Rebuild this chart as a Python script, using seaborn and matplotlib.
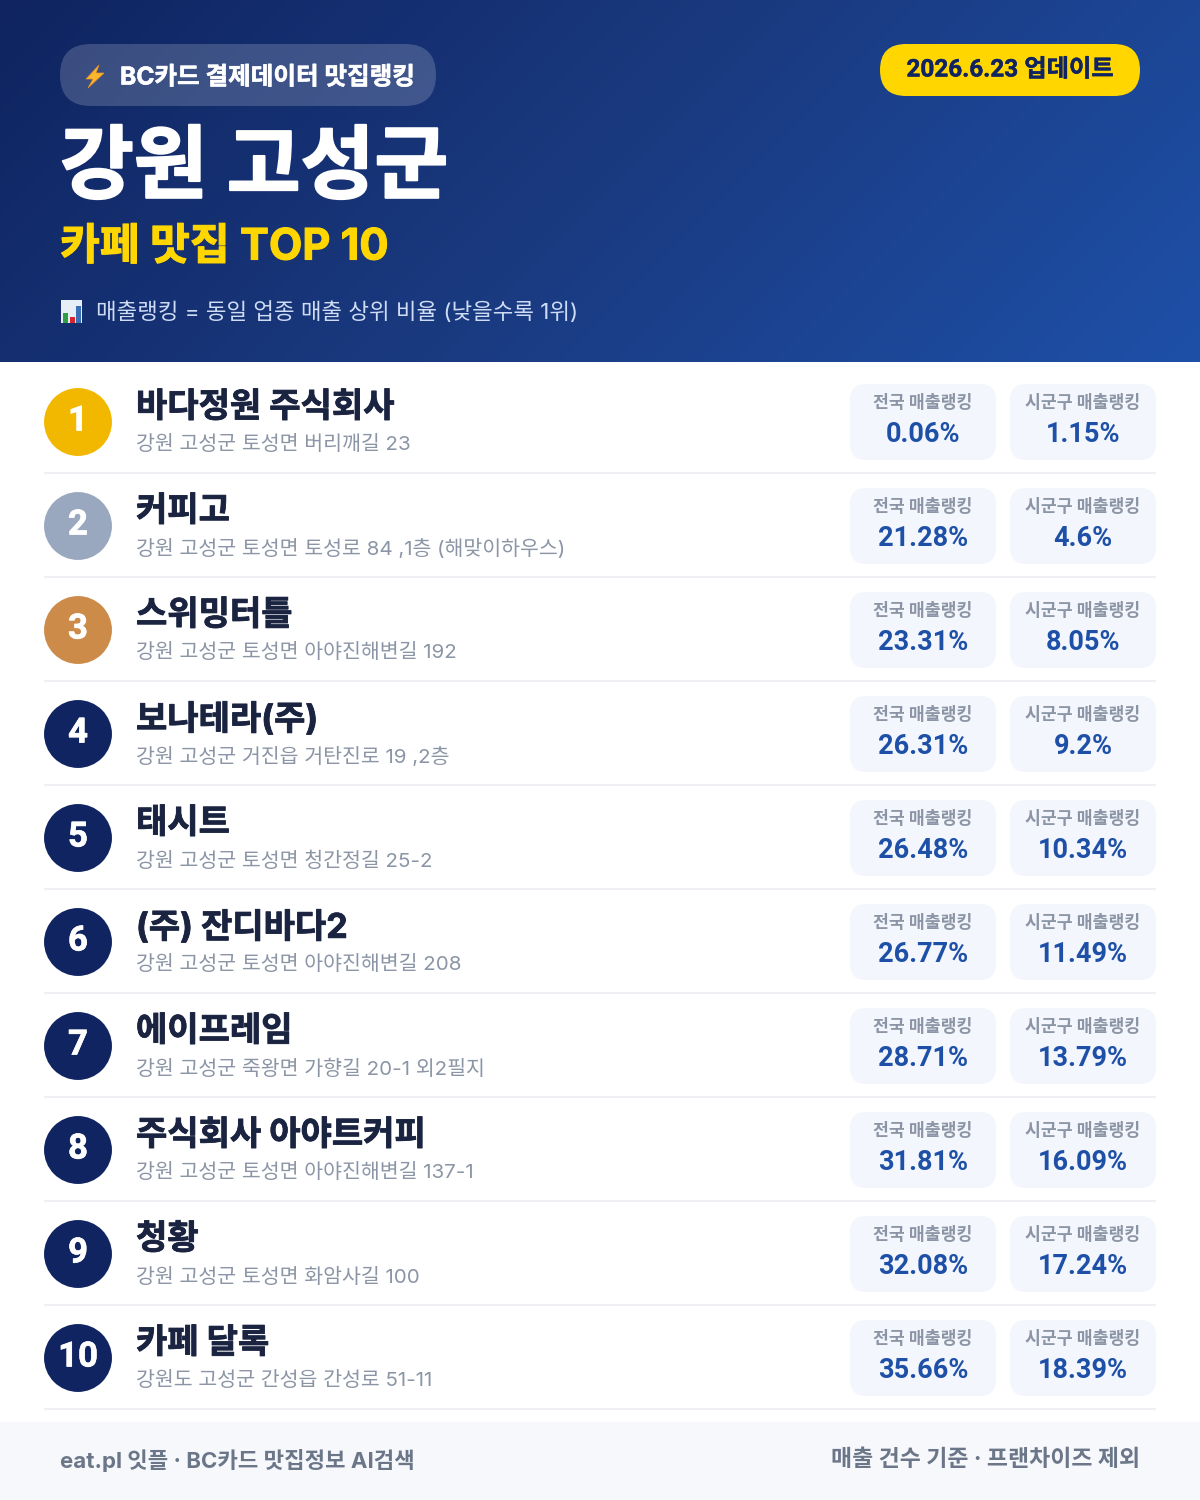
import numpy as np
import pandas as pd
import seaborn as sns
import matplotlib.pyplot as plt
import matplotlib.patheffects as pe
from matplotlib.colors import LinearSegmentedColormap
from matplotlib.patches import FancyBboxPatch, Polygon, Rectangle

# --- data ---
ranks = [1, 2, 3, 4, 5, 6, 7, 8, 9, 10]
names = ["바다정원 주식회사", "커피고", "스위밍터틀", "보나테라(주)", "태시트",
         "(주) 잔디바다2", "에이프레임", "주식회사 아야트커피", "청황", "카페 달록"]
addresses = ["강원 고성군 토성면 버리깨길 23",
             "강원 고성군 토성면 토성로 84 ,1층 (해맞이하우스)",
             "강원 고성군 토성면 아야진해변길 192",
             "강원 고성군 거진읍 거탄진로 19 ,2층",
             "강원 고성군 토성면 청간정길 25-2",
             "강원 고성군 토성면 아야진해변길 208",
             "강원 고성군 죽왕면 가향길 20-1 외2필지",
             "강원 고성군 토성면 아야진해변길 137-1",
             "강원 고성군 토성면 화암사길 100",
             "강원도 고성군 간성읍 간성로 51-11"]
national = [0.06, 21.28, 23.31, 26.31, 26.48, 26.77, 28.71, 31.81, 32.08, 35.66]
local = [1.15, 4.6, 8.05, 9.2, 10.34, 11.49, 13.79, 16.09, 17.24, 18.39]
medals = ["1", "2", "3"]

NAVY = "#0f2460"
BLUE = "#1e50a8"
YELLOW = "#ffd600"
NARROW = ["Roboto", "Noto Sans CJK KR", "DejaVu Sans"]

sns.set_theme(style="white")
plt.rcParams["font.family"] = ["Inter", "Noto Sans CJK KR", "DejaVu Sans"]

fig = plt.figure(figsize=(12, 15), dpi=100)
ax = fig.add_axes([0, 0, 1, 1])
ax.set_xlim(0, 1200)
ax.set_ylim(1500, 0)
ax.axis("off")


def heavy(width, color):
    # the CJK font stops at Bold, thicken it a bit
    return [pe.withStroke(linewidth=width, foreground=color)]


# --- header ---
xx, yy = np.meshgrid(np.arange(1200), np.arange(362))
grad = (xx + yy) / (1200 + 362)
cmap = LinearSegmentedColormap.from_list("hdr", [NAVY, "#1a3a80", BLUE])
ax.imshow(grad, extent=(0, 1200, 362, 0), cmap=cmap, aspect="auto", zorder=0)
ax.set_xlim(0, 1200)
ax.set_ylim(1500, 0)


def box(x0, y0, x1, y1, r, **kw):
    ax.add_patch(FancyBboxPatch((x0 + r, y0 + r), x1 - x0 - 2 * r, y1 - y0 - 2 * r,
                                boxstyle=f"round,pad={r},rounding_size={r}",
                                linewidth=0, **kw))


box(60, 44, 436, 106, 31, facecolor="white", alpha=0.18, zorder=1)
box(880, 44, 1140, 96, 26, facecolor=YELLOW, zorder=1)

# bolt icon
ax.add_patch(Polygon([(99, 65), (86, 79), (93, 79), (88, 88), (104, 73), (96, 73)],
                     closed=True, facecolor="#fbb62c", edgecolor="#e8912a", linewidth=0.5, zorder=2))
ax.text(120, 78, "BC카드 결제데이터 맛집랭킹", fontsize=17.7, fontweight="bold",
        color="white", va="center", zorder=2, path_effects=heavy(0.4, "white"))
ax.text(1010, 70, "2026.6.23 업데이트", fontsize=17.5, fontweight="bold", family=NARROW,
        color=NAVY, ha="center", va="center", zorder=2, path_effects=heavy(0.3, NAVY))
ax.text(60, 171, "강원 고성군", fontsize=57.8, fontweight="bold", color="white",
        va="center", zorder=2, path_effects=heavy(1.4, "white"))
ax.text(60, 248, "카페 맛집 TOP 10", fontsize=31.2, fontweight="bold", color=YELLOW,
        va="center", zorder=2, path_effects=heavy(0.8, YELLOW))

# chart icon
ax.add_patch(Rectangle((61, 300), 21, 23, facecolor="#e8eef5", linewidth=0, zorder=2))
for bx, bh, bc in [(63, 10, "#2f9e44"), (70, 6, "#d9252c"), (76, 17, "#3b6fb5")]:
    ax.add_patch(Rectangle((bx, 323 - bh), 5, bh, facecolor=bc, linewidth=0, zorder=3))
ax.text(96, 312, "매출랭킹 = 동일 업종 매출 상위 비율 (낮을수록 1위)", fontsize=16.1,
        color="#cfdcf5", va="center", zorder=2)

# --- rows ---
df = pd.DataFrame({"rank": ranks, "name": names, "addr": addresses,
                   "national": national, "local": local})
df["y"] = 422 + 104 * (df["rank"] - 1)
df["x"] = 78
df["medal"] = df["rank"].astype(str).where(df["rank"].astype(str).isin(medals), "rest")

sns.scatterplot(data=df, x="x", y="y", hue="medal", legend=False, ax=ax, s=2390,
                linewidth=0, zorder=2,
                palette={"1": "#f2b800", "2": "#9aa8bf", "3": "#cd8b4a", "rest": NAVY})
ax.set_xlim(0, 1200)
ax.set_ylim(1500, 0)
ax.set_xlabel("")
ax.set_ylabel("")

for row in df.itertuples():
    y = row.y
    ax.text(78, y - 1, str(row.rank), fontsize=25, fontweight="bold", color="white", family=NARROW,
            ha="center", va="center", zorder=3, path_effects=heavy(0.5, "white"))
    ax.text(136, y - 14, row.name, fontsize=24.5, fontweight="bold", color="#1a2340",
            va="center", zorder=3, path_effects=heavy(0.6, "#1a2340"))
    ax.text(136, y + 23, row.addr, fontsize=14.8, color="#8b95a5", va="center", zorder=3)
    for x0, label, val in [(850, "전국 매출랭킹", row.national),
                           (1010, "시군구 매출랭킹", row.local)]:
        box(x0, y - 38, x0 + 146, y + 38, 16, facecolor="#f3f6fc", zorder=1)
        cx = x0 + 73
        ax.text(cx, y - 19, label, fontsize=12.4, fontweight="bold", color="#8b95a5",
                ha="center", va="center", zorder=3)
        ax.text(cx, y + 12, f"{val:g}%", fontsize=19.5, fontweight="bold", color=BLUE,
                family=NARROW, ha="center", va="center", zorder=3)
    ax.plot([44, 1156], [y + 51, y + 51], color="#eef0f3", linewidth=1.5, zorder=1,
            solid_capstyle="butt")

# --- footer ---
ax.add_patch(Rectangle((0, 1422), 1200, 78, facecolor="#f6f8fc", linewidth=0, zorder=1))
ax.text(60, 1460, "eat.pl 잇플 · BC카드 맛집정보 AI검색", fontsize=16, fontweight="bold",
        color="#6b7688", va="center", zorder=2)
ax.text(1140, 1460, "매출 건수 기준 · 프랜차이즈 제외", fontsize=16.5, fontweight="bold",
        color="#6b7688", ha="right", va="center", zorder=2)

fig.savefig("out.png", dpi=100, facecolor="white")
